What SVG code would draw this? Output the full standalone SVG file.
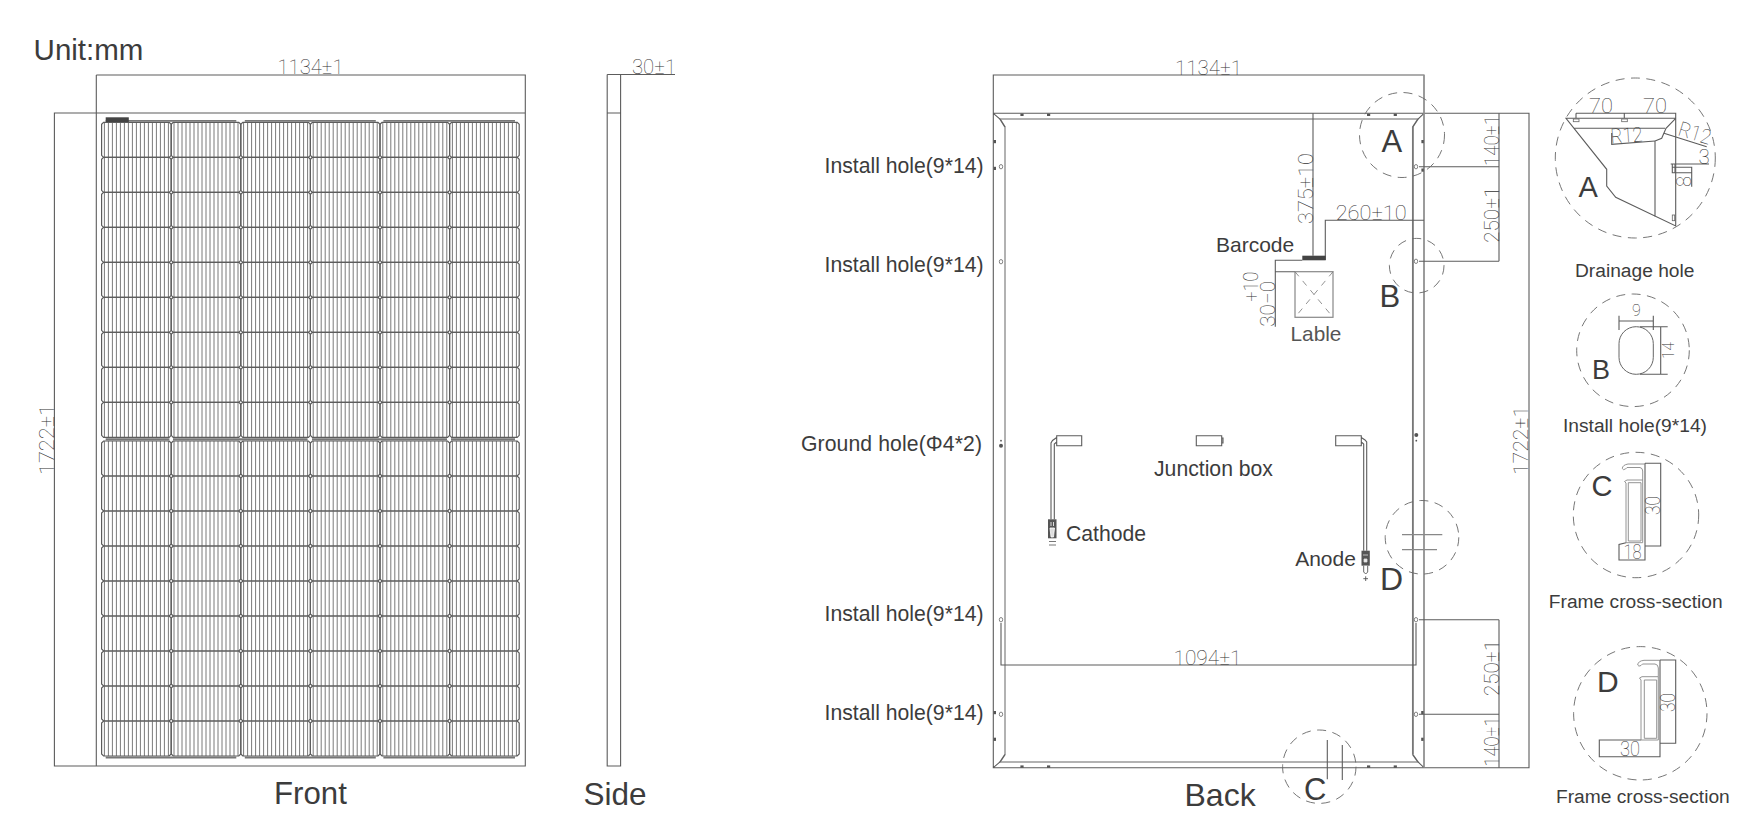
<svg xmlns="http://www.w3.org/2000/svg" xmlns:xlink="http://www.w3.org/1999/xlink" width="1756" height="829" viewBox="0 0 1756 829">
<style>
text{font-family:"Liberation Sans",Arial,sans-serif}
.t{fill:#3c3c3c}
.s21{font-size:21.2px}.s19{font-size:19.2px}.s30{font-size:31px}
.d{font-family:Roboto,"Liberation Sans",sans-serif;font-weight:100;fill:#333;font-size:20.5px}
.l{fill:none;stroke:#5c5c5c;stroke-width:1.1}
.g{fill:none;stroke:#999;stroke-width:1.5}
.c{fill:none;stroke:#666;stroke-width:.9;stroke-dasharray:9 6.5}
.m{fill:#555}
.h{fill:#fff;stroke:#666;stroke-width:.8}
</style>
<defs>
<g id="cell">
<path d="M2.8 0v35M6.8 0v35M10.8 0v35M14.8 0v35M18.8 0v35M22.8 0v35M26.8 0v35M30.8 0v35M34.8 0v35M38.8 0v35M42.8 0v35M46.8 0v35M50.8 0v35M54.8 0v35M58.8 0v35M62.8 0v35M66.8 0v35" fill="none" stroke="#7a7a7a" stroke-width="1"/>
<path d="M2 0H67.6L69.6 2V33L67.6 35H2L0 33V2Z" fill="none" stroke="#5c5c5c" stroke-width="1.2"/>
</g>
<g id="row">
<use xlink:href="#cell" href="#cell" x="101.6"/><use xlink:href="#cell" href="#cell" x="171.2"/><use xlink:href="#cell" href="#cell" x="240.8"/><use xlink:href="#cell" href="#cell" x="310.4"/><use xlink:href="#cell" href="#cell" x="380"/><use xlink:href="#cell" href="#cell" x="449.6"/>
</g>
</defs>
<rect width="1756" height="829" fill="#fff"/>

<g id="front">
<g id="front-cells">
<use href="#row" y="122.3"/><use href="#row" y="157.3"/><use href="#row" y="192.3"/><use href="#row" y="227.3"/><use href="#row" y="262.3"/><use href="#row" y="297.3"/><use href="#row" y="332.3"/><use href="#row" y="367.3"/><use href="#row" y="402.3"/>
<use href="#row" y="441"/><use href="#row" y="476"/><use href="#row" y="511"/><use href="#row" y="546"/><use href="#row" y="581"/><use href="#row" y="616"/><use href="#row" y="651"/><use href="#row" y="686"/><use href="#row" y="721"/>
</g>
<path d="M105.7 120.8H236.3M244.8 120.8H375.8M383.4 120.8H515M105.7 757.5H236.3M244.8 757.5H375.8M383.4 757.5H515" fill="none" stroke="#777" stroke-width="1.8"/>
<path d="M105.7 439.4H169.4M173 439.4H307.6M312 439.4H447M451 439.4H515" fill="none" stroke="#777" stroke-width="2.2"/>
<rect x="105.7" y="117.3" width="23.1" height="4.7" fill="#444"/>
<path class="l" d="M96.3 75H525.3V766H54.4V113H525.3M96.3 75V766"/>
<text class="d" x="277.5" y="74" textLength="66" lengthAdjust="spacingAndGlyphs">1134±1</text>
<text class="d" transform="translate(53.5 475) rotate(-90)" textLength="71" lengthAdjust="spacingAndGlyphs">1722±1</text>
<text class="t" x="33.6" y="60" font-size="29.5">Unit:mm</text>
<text class="t" x="274" y="804" font-size="31.2">Front</text>
</g>

<g id="side">
<path class="l" d="M607.2 74.5H675M607.2 74.5V766H620.6V74.5M607.2 113H620.6"/>
<text class="d" x="632" y="73.5" textLength="44" lengthAdjust="spacingAndGlyphs">30±1</text>
<text class="t" x="583.5" y="805" font-size="31.5">Side</text>
</g>

<g id="back">
<path class="g" d="M1000 119H1418L1412.7 127V754.5L1418 762H1000L1005 754.5V127Z"/>
<path class="l" d="M993.3 75H1424V767.7H993.3ZM993.3 113.3H1529V767.7H1424M993.3 113.3L1000 119L1005 127M993.3 767.7L1000 762L1005 754.5M1424 113.3L1418 119L1412.7 127M1424 767.7L1418 762L1412.7 754.5"/>
<path d="M1424 75V767.7" class="g"/>
<path d="M1413 127V754" class="l"/>
<g id="back-marks" class="m">
<rect x="1020.4" y="113.6" width="3.2" height="2.4"/><rect x="1047" y="113.6" width="3.2" height="2.4"/><rect x="1367" y="113.6" width="3.2" height="2.4"/><rect x="1393.7" y="113.6" width="3.2" height="2.4"/>
<rect x="1020.4" y="765.4" width="3.2" height="2.4"/><rect x="1047" y="765.4" width="3.2" height="2.4"/><rect x="1367" y="765.4" width="3.2" height="2.4"/><rect x="1393.7" y="765.4" width="3.2" height="2.4"/>
<rect x="993.6" y="140" width="2.4" height="3.2"/><rect x="993.6" y="166.8" width="2.4" height="3.2"/><rect x="993.6" y="711" width="2.4" height="3.2"/><rect x="993.6" y="737.7" width="2.4" height="3.2"/>
<rect x="1421.4" y="140" width="2.4" height="3.2"/><rect x="1421.4" y="168.5" width="2.4" height="3.2"/><rect x="1421.2" y="711" width="2.4" height="3.2"/><rect x="1421.2" y="737.7" width="2.4" height="3.2"/>
<circle cx="1001" cy="445.7" r="2"/><circle cx="1001" cy="440.7" r=".9"/><circle cx="1416.3" cy="435" r="2"/><circle cx="1416.3" cy="440.7" r=".9"/>
</g>
<g id="dimensions">
<path class="l" d="M1419 166.7H1499M1419 261.3H1499M1419 619.7H1499M1419 714.3H1499M1499 113.3V261.3M1499 619.7V767.7"/>
<path class="l" d="M1313 113.3V255.7" stroke-width="1.5"/>
<path class="l" d="M1325.3 260V220.3H1424M1302.3 260.3H1275.3V326.7M1275.3 271.7H1295"/>
<path class="l" d="M1001 623V665H1416V623"/>
</g>
<g id="back-holes">
<ellipse class="h" cx="1001" cy="166.7" rx="1.7" ry="2.2"/><ellipse class="h" cx="1001" cy="261.7" rx="1.7" ry="2.2"/><ellipse class="h" cx="1001" cy="619.7" rx="1.7" ry="2.2"/><ellipse class="h" cx="1001" cy="714.3" rx="1.7" ry="2.2"/>
<ellipse class="h" cx="1416" cy="166.7" rx="1.7" ry="2.2"/><ellipse class="h" cx="1416" cy="261.3" rx="1.7" ry="2.2"/><ellipse class="h" cx="1416" cy="619.7" rx="1.7" ry="2.2"/><ellipse class="h" cx="1416" cy="714.3" rx="1.7" ry="2.2"/>
</g>
<rect x="1302.3" y="255.7" width="23.4" height="4.6" fill="#444"/>
<g id="label-box">
<rect x="1295" y="271.7" width="38" height="45.6" fill="none" stroke="#888" stroke-width="1.2"/>
<path d="M1295 271.7L1333 317.3M1333 271.7L1295 317.3" fill="none" stroke="#777" stroke-width=".8" stroke-dasharray="6 6"/>
</g>
<g id="junction-boxes" class="l">
<path d="M1056.7 435.7H1081.7V445.7H1056.7ZM1056.7 437.5L1052.5 440.5L1051 443V519.3M1056.7 442L1054.3 444V519.3"/>
<path d="M1196.3 435.7H1221.7V445.7H1196.3ZM1221.7 438H1223V443H1221.7"/>
<path d="M1335.7 435.7H1361.3V445.7H1335.7ZM1361.3 437.5L1365 440L1366.7 442V550.7M1361.3 442L1363.7 444V550.7"/>
</g>
<g id="connector-minus">
<rect x="1048" y="519.3" width="8.5" height="19" fill="#555"/>
<path d="M1051 522V526M1053.5 522V526M1050 528H1054.5L1053.5 537H1051Z" stroke="#fff" stroke-width=".8" fill="#ddd"/>
<path d="M1049 541.5H1056M1049 545H1056" stroke="#777" stroke-width="1" fill="none"/>
</g>
<g id="connector-plus">
<rect x="1361.5" y="550.7" width="8.3" height="15" fill="#555"/>
<path d="M1363 555H1368M1364 559H1367V562H1364Z" stroke="#ddd" stroke-width=".8" fill="#eee"/>
<path d="M1363.7 565.7V572L1365.7 574L1367.7 572V565.7" stroke="#666" fill="#fff"/>
<path d="M1363.3 578.7H1368M1365.7 576.3V581" stroke="#555" stroke-width=".9" fill="none"/>
</g>
<g id="callouts">
<circle class="c" cx="1402" cy="135" r="42.5"/>
<circle class="c" cx="1416.7" cy="265.7" r="27.3"/>
<circle class="c" cx="1319.3" cy="766.7" r="36.7"/>
<circle class="c" cx="1422" cy="537.3" r="36.8"/>
<path d="M1402 534.7H1442.3M1402 549.7H1437" fill="none" stroke="#888" stroke-width="1.2"/>
<path class="l" d="M1327.3 740V779.3M1342.3 745V780"/>
<text class="t s30" x="1381.5" y="152.3">A</text>
<text class="t s30" x="1379.5" y="306.7">B</text>
<text class="t s30" x="1304" y="800">C</text>
<text class="t" x="1380" y="590" font-size="32">D</text>
</g>
<text class="d" x="1175" y="74.5" textLength="67" lengthAdjust="spacingAndGlyphs">1134±1</text>
<text class="d" x="1173.5" y="664.5" textLength="68" lengthAdjust="spacingAndGlyphs">1094±1</text>
<text class="d" x="1335.7" y="219.5" textLength="71" lengthAdjust="spacingAndGlyphs">260±10</text>
<text class="d" transform="translate(1312.5 224) rotate(-90)" textLength="71" lengthAdjust="spacingAndGlyphs">375±10</text>
<text class="d" transform="translate(1498.5 166) rotate(-90)" textLength="51" lengthAdjust="spacingAndGlyphs">140±1</text>
<text class="d" transform="translate(1498.5 242.7) rotate(-90)" textLength="56" lengthAdjust="spacingAndGlyphs">250±1</text>
<text class="d" transform="translate(1498.5 696) rotate(-90)" textLength="56" lengthAdjust="spacingAndGlyphs">250±1</text>
<text class="d" transform="translate(1498.5 766.7) rotate(-90)" textLength="50" lengthAdjust="spacingAndGlyphs">140±1</text>
<text class="d" transform="translate(1528 475) rotate(-90)" textLength="69" lengthAdjust="spacingAndGlyphs">1722±1</text>
<text class="d" transform="translate(1258 301.7) rotate(-90)" textLength="30" lengthAdjust="spacingAndGlyphs">+10</text>
<text class="d" transform="translate(1275 326.7) rotate(-90)" textLength="45.7" lengthAdjust="spacingAndGlyphs">30−0</text>
<text class="t" x="1216" y="252.3" font-size="21">Barcode</text>
<text class="t" x="1290.5" y="340.7" font-size="20.8" style="fill:#555">Lable</text>
<text class="t s21" x="824.5" y="173.3">Install hole(9*14)</text>
<text class="t s21" x="824.5" y="271.7">Install hole(9*14)</text>
<text class="t s21" x="824.5" y="620.7">Install hole(9*14)</text>
<text class="t s21" x="824.5" y="720">Install hole(9*14)</text>
<text class="t s21" x="801" y="451.2" textLength="181">Ground hole(Φ4*2)</text>
<text class="t s21" x="1066" y="540.7">Cathode</text>
<text class="t s21" x="1154" y="476">Junction box</text>
<text class="t" x="1295.2" y="565.7" font-size="21">Anode</text>
<text class="t" x="1184.5" y="806" font-size="32">Back</text>
</g>

<g id="detail-a">
<circle class="c" cx="1635.3" cy="158" r="80"/>
<path class="l" d="M1576 113.3H1675.7V226L1615.7 197.3L1606.7 186V169.3L1566 118.3H1675.7M1574.3 128.3H1665M1576 113.3V118.3M1624.3 113.3V118.3M1655 141V216.7M1655 141L1661.7 138.3L1666 128.3L1675.7 118.3"/>
<path class="l" d="M1611.7 133V144.3L1655 141M1664 133.3L1706.7 146.7M1670.7 164H1709M1672.3 164V172.7H1691.7M1672.3 167.3H1691.7V186.7M1675 164V172.7"/>
<rect class="h" x="1573.3" y="119" width="5.7" height="2.7"/><rect class="h" x="1621.7" y="119" width="5.6" height="2.7"/><rect class="h" x="1672.3" y="215" width="2.4" height="5.7"/>
<text class="d" x="1589" y="113" textLength="24" lengthAdjust="spacingAndGlyphs">70</text>
<text class="d" x="1643" y="113" textLength="24" lengthAdjust="spacingAndGlyphs">70</text>
<text class="d" transform="translate(1611 143.5) rotate(-4)" textLength="32" lengthAdjust="spacingAndGlyphs">R12</text>
<text class="d" transform="translate(1677 135) rotate(17)" textLength="33" lengthAdjust="spacingAndGlyphs">R12</text>
<text class="d" x="1698.5" y="163.5">3</text>
<text class="d" transform="translate(1691 187) rotate(-90)" textLength="11" lengthAdjust="spacingAndGlyphs">8</text>
<text class="t" x="1578.5" y="196.7" font-size="29">A</text>
<text class="t s19" x="1575" y="276.7">Drainage hole</text>
</g>

<g id="detail-b">
<circle class="c" cx="1633" cy="350.3" r="56.3"/>
<rect x="1619" y="326.7" width="34.3" height="47.6" rx="17" ry="17" fill="none" stroke="#666" stroke-width="1"/>
<path class="l" d="M1619 315.7V330M1653.3 315.7V330M1619 321H1653.3M1640 326.7H1667.7M1640 374.3H1667.7M1660.7 326.7V374.3"/>
<text class="d" x="1632" y="315.5" style="font-size:16px">9</text>
<text class="d" transform="translate(1674 359) rotate(-90)" style="font-size:16px" textLength="17" lengthAdjust="spacingAndGlyphs">14</text>
<text class="t" x="1592" y="379" font-size="27">B</text>
<text class="t s19" x="1563" y="432.3">Install hole(9*14)</text>
</g>

<g id="detail-c">
<circle class="c" cx="1636" cy="515" r="62.7"/>
<path class="l" d="M1645 463.3H1660.7V546H1645M1645 463.3V560H1619V544.5L1626 542.7"/>
<path d="M1645 464H1628Q1622.5 465 1622.3 468.5Q1623 470.5 1625.5 469L1627 467.5H1640Q1642.7 468 1642.7 471V480M1642.7 480V542.7H1626V483L1624.5 481.5L1627 480H1642.7M1628.3 482.7H1641V541H1628.3Z" fill="none" stroke="#888" stroke-width=".9"/>
<text class="d" transform="translate(1660 515) rotate(-90)" textLength="19" lengthAdjust="spacingAndGlyphs">30</text>
<text class="d" x="1623.5" y="559" textLength="18" lengthAdjust="spacingAndGlyphs">18</text>
<text class="t" x="1591.5" y="496" font-size="29">C</text>
<text class="t s19" x="1548.8" y="608.3">Frame cross-section</text>
</g>

<g id="detail-d">
<circle class="c" cx="1640.3" cy="713.3" r="66.7"/>
<path class="l" d="M1660 660H1675.7V743.3H1660M1660 660V756.7H1599.3V740H1641"/>
<path d="M1660 660.3H1644Q1638 661 1637.7 665Q1638.5 667 1641 665.5L1642.5 664H1655Q1658.3 664.5 1658.3 668V676.7M1658.3 676.7V740H1641V680L1639.5 678L1642 676.7H1658.3M1644.3 680H1656.7V738.3H1644.3Z" fill="none" stroke="#888" stroke-width=".9"/>
<text class="d" transform="translate(1675 712) rotate(-90)" textLength="19" lengthAdjust="spacingAndGlyphs">30</text>
<text class="d" x="1620" y="756" textLength="20" lengthAdjust="spacingAndGlyphs">30</text>
<text class="t" x="1597" y="691.7" font-size="30">D</text>
<text class="t s19" x="1556" y="802.7">Frame cross-section</text>
</g>
</svg>
